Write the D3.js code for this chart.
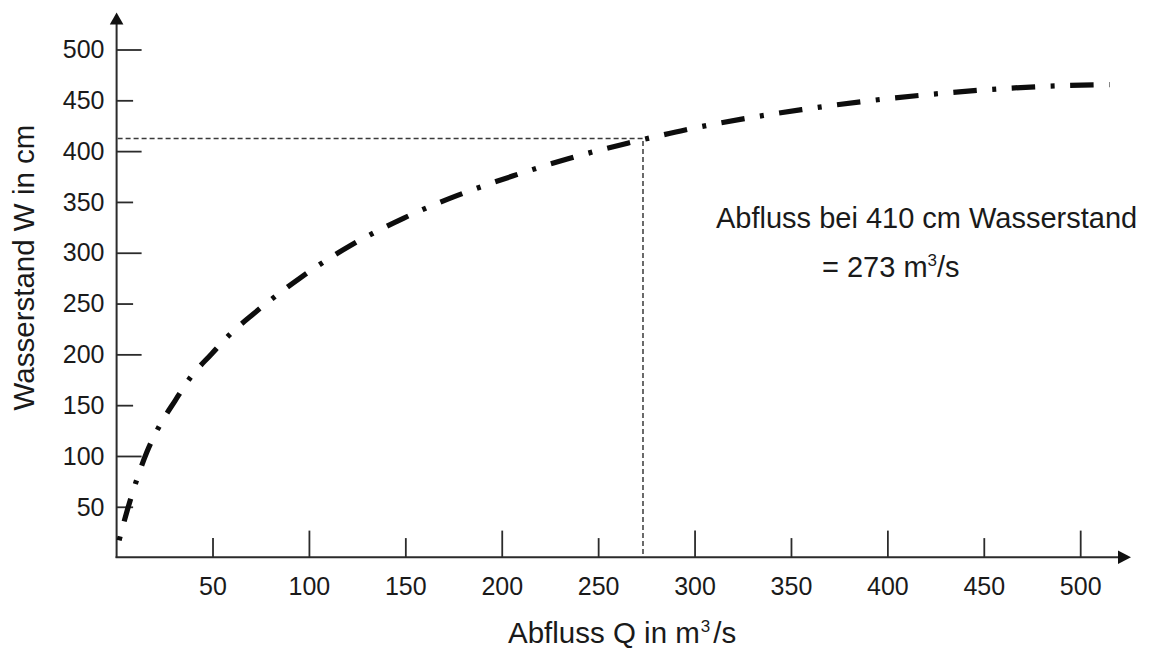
<!DOCTYPE html>
<html><head><meta charset="utf-8">
<script src="https://cdn.jsdelivr.net/npm/d3@7"></script>
<style>
body{margin:0;background:#fff}
svg{display:block}
text{font-family:"Liberation Sans",Arial,Helvetica,sans-serif;fill:#1a1a1a}
</style>
</head><body>
<svg id="chart" width="1151" height="648"></svg>
<script>
// Rating curve: discharge Q (m³/s) vs water level W (cm)
const dischargeQ = [1.3, 5.65, 10.3, 15.6, 22.0, 30.3, 38.6, 49.0, 59.5, 70.9, 82.7, 95.1, 107.7, 121.3, 134.9, 148.7, 162.5, 176.8, 191.1, 205.7, 220.1, 234.6, 249.8, 265.0, 279.2, 294.8, 309.3, 324.9, 339.9, 355.3, 370.4, 385.7, 401.0, 416.2, 431.5, 446.9, 462.1, 477.5, 492.7, 508.5, 515.0];
const waterLevelW = [17.5, 47.8, 76.2, 103.9, 129.3, 154.8, 178.5, 200.4, 221.5, 240.2, 258.2, 275.6, 291.8, 307.6, 321.6, 334.4, 346.0, 356.9, 366.8, 376.2, 385.0, 393.2, 401.1, 408.3, 414.6, 421.3, 426.9, 432.2, 436.9, 441.3, 445.3, 449.0, 452.4, 455.3, 457.9, 460.3, 462.3, 463.9, 465.0, 465.7, 465.9];
const xTicks = [50, 100, 150, 200, 250, 300, 350, 400, 450, 500];
const yTicks = [50, 100, 150, 200, 250, 300, 350, 400, 450, 500];
const readQ = 273;
const readW = 413;
const annotationLine1 = "Abfluss bei 410 cm Wasserstand";
const annotationLine2 = ["= 273 m", "3", "/s"];
const xTitle = ["Abfluss Q in m", "3", "/s"];
const yTitle = "Wasserstand W in cm";

const svg = d3.select("#chart");
const x = d3.scaleLinear().domain([0, 500]).range([116.6, 1080.7]);
const y = d3.scaleLinear().domain([0, 500]).range([558.1, 50]);

const axisColor = "#2b2b2b";
const x0 = x(0), y0 = y(0);

// axis lines
svg.append("line").attr("x1", x0).attr("x2", x0).attr("y1", y0).attr("y2", 23)
  .attr("stroke", axisColor).attr("stroke-width", 2);
svg.append("line").attr("x1", x0 - 1).attr("x2", 1119).attr("y1", y0 - 0.8).attr("y2", y0 - 0.8)
  .attr("stroke", axisColor).attr("stroke-width", 2);
// arrow heads
svg.append("path").attr("d", `M${x0},12.5 L${x0 - 6.8},24.5 L${x0 + 6.8},24.5 Z`).attr("fill", "#111");
svg.append("path").attr("d", `M1131,${y0 - 0.8} L1118,${y0 - 7.5} L1118,${y0 + 5.9} Z`).attr("fill", "#111");

// x ticks (inside, upward) – longer at multiples of 100
svg.append("g").selectAll("line").data(xTicks).join("line")
  .attr("x1", d => x(d)).attr("x2", d => x(d))
  .attr("y1", y0 - 1).attr("y2", d => d % 100 === 0 ? y0 - 27.5 : y0 - 20)
  .attr("stroke", axisColor).attr("stroke-width", 1.8);
svg.append("g").selectAll("text").data(xTicks).join("text")
  .attr("x", d => x(d)).attr("y", 595)
  .attr("text-anchor", "middle").attr("font-size", 25).text(d => d);

// y ticks (inside, rightward)
svg.append("g").selectAll("line").data(yTicks).join("line")
  .attr("x1", x0).attr("x2", d => d % 100 === 0 ? x0 + 25 : x0 + 16.5)
  .attr("y1", d => y(d)).attr("y2", d => y(d))
  .attr("stroke", axisColor).attr("stroke-width", 1.8);
svg.append("g").selectAll("text").data(yTicks).join("text")
  .attr("x", 104.5).attr("y", d => y(d)).attr("dy", "0.33em")
  .attr("text-anchor", "end").attr("font-size", 25).text(d => d);

// reading lines
svg.append("path")
  .attr("d", `M${x0 + 1},${y(readW)} H${x(readQ)} V${y0 - 1}`)
  .attr("fill", "none").attr("stroke", "#3a3a3a").attr("stroke-width", 1.5)
  .attr("stroke-dasharray", "5,3");

// rating curve
const pts = dischargeQ.map((q, i) => [q, waterLevelW[i]]);
const line = d3.line().x(d => x(d[0])).y(d => y(d[1])).curve(d3.curveMonotoneX);
svg.append("path").attr("d", line(pts))
  .attr("fill", "none").attr("stroke", "#0d0d0d").attr("stroke-width", 5.2)
  .attr("stroke-dasharray", "4,15.5,23.5,15.5");

// annotation
svg.append("text").attr("x", 716).attr("y", 227.5).attr("font-size", 29).text(annotationLine1);
const a2 = svg.append("text").attr("x", 822).attr("y", 277).attr("font-size", 29);
a2.append("tspan").text(annotationLine2[0]);
a2.append("tspan").attr("font-size", 17).attr("dy", -11).text(annotationLine2[1]);
a2.append("tspan").attr("dy", 11).text(annotationLine2[2]);

// x title
const xt = svg.append("text").attr("x", 508).attr("y", 643).attr("font-size", 29.5);
xt.append("tspan").text(xTitle[0]);
xt.append("tspan").attr("font-size", 17).attr("dy", -11).attr("dx", 1).text(xTitle[1]);
xt.append("tspan").attr("dy", 11).attr("dx", 3).text(xTitle[2]);

// y title
svg.append("text").attr("transform", "translate(33.5,267.5) rotate(-90)")
  .attr("text-anchor", "middle").attr("font-size", 29.5).text(yTitle);
</script>
</body></html>
